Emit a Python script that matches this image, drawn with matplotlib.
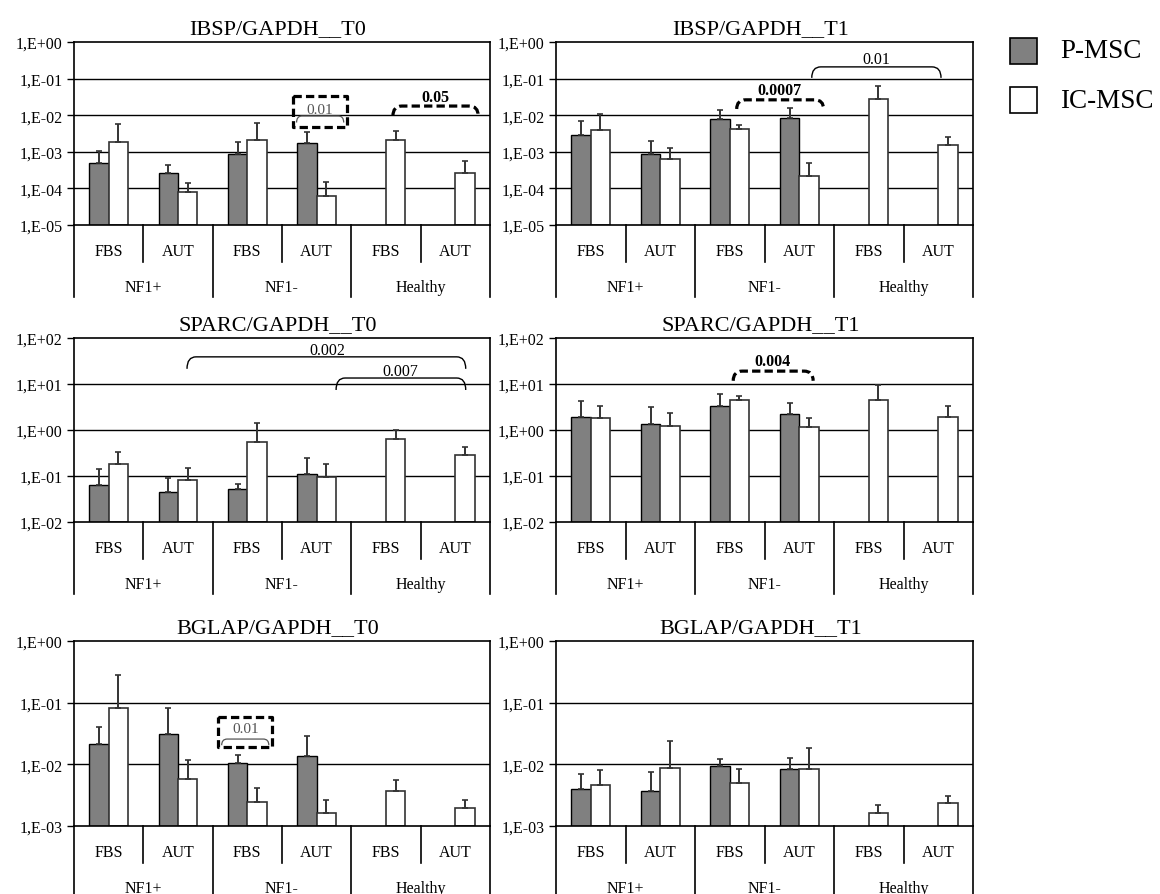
import numpy as np
import matplotlib
matplotlib.use("Agg")
import matplotlib.pyplot as plt
from matplotlib.path import Path
from matplotlib.patches import PathPatch, Rectangle

plt.rcParams['font.family'] = ['Liberation Serif', 'DejaVu Serif']

nan = np.nan

# category labels
media = ["FBS", "AUT", "FBS", "AUT", "FBS", "AUT"]
groups = ["NF1+", "NF1-", "Healthy"]

# IBSP/GAPDH T0
ibsp_t0_p = [5.0e-4, 2.7e-4, 8.5e-4, 1.75e-3, nan, nan]
ibsp_t0_p_err = [5.5e-4, 1.7e-4, 1.05e-3, 1.65e-3, nan, nan]
ibsp_t0_ic = [1.8e-3, 8.0e-5, 2.1e-3, 6.3e-5, 2.05e-3, 2.6e-4]
ibsp_t0_ic_err = [3.8e-3, 6.0e-5, 3.9e-3, 8.7e-5, 1.75e-3, 2.9e-4]

# IBSP/GAPDH T1
ibsp_t1_p = [2.95e-3, 8.5e-4, 7.8e-3, 8.2e-3, nan, nan]
ibsp_t1_p_err = [4.15e-3, 1.09e-3, 6.2e-3, 7.6e-3, nan, nan]
ibsp_t1_ic = [4.0e-3, 6.5e-4, 4.3e-3, 2.2e-4, 2.8e-2, 1.55e-3]
ibsp_t1_ic_err = [7.0e-3, 6.1e-4, 1.2e-3, 2.6e-4, 3.6e-2, 1.05e-3]

# SPARC/GAPDH T0
sparc_t0_p = [0.065, 0.044, 0.053, 0.112, nan, nan]
sparc_t0_p_err = [0.080, 0.046, 0.014, 0.133, nan, nan]
sparc_t0_ic = [0.18, 0.08, 0.54, 0.093, 0.65, 0.29]
sparc_t0_ic_err = [0.15, 0.07, 0.89, 0.093, 0.35, 0.14]

# SPARC/GAPDH T1
sparc_t1_p = [1.96, 1.32, 3.25, 2.2, nan, nan]
sparc_t1_p_err = [2.24, 1.88, 2.95, 1.7, nan, nan]
sparc_t1_ic = [1.86, 1.25, 4.4, 1.19, 4.6, 1.94]
sparc_t1_ic_err = [1.44, 1.1, 1.1, 0.59, 4.7, 1.46]

# BGLAP/GAPDH T0
bglap_t0_p = [0.021, 0.031, 0.0105, 0.0138, nan, nan]
bglap_t0_p_err = [0.019, 0.051, 0.0038, 0.0146, nan, nan]
bglap_t0_ic = [0.082, 0.0058, 0.00245, 0.00163, 0.00367, 0.00194]
bglap_t0_ic_err = [0.198, 0.006, 0.00165, 0.00097, 0.00183, 0.00066]

# BGLAP/GAPDH T1
bglap_t1_p = [0.00405, 0.0037, 0.0093, 0.0084, nan, nan]
bglap_t1_p_err = [0.0028, 0.0039, 0.0031, 0.0043, nan, nan]
bglap_t1_ic = [0.00465, 0.0086, 0.0049, 0.0084, 0.00161, 0.00238]
bglap_t1_ic_err = [0.0033, 0.0149, 0.0034, 0.0101, 0.0006, 0.0007]

W, H = 1160, 895
fig = plt.figure(figsize=(W / 100, H / 100), dpi=100)

GREY = "#808080"
BW = 0.28


def make_axes(x0, y0, w, h):
    return fig.add_axes([x0 / W, 1 - (y0 + h) / H, w / W, h / H])


def fmt(v, pos):
    return "1,E%+03d" % int(round(np.log10(v)))


def draw_panel(ax, h_px, title, ylim, p, p_err, ic, ic_err):
    x = np.arange(6)
    lo = ylim[0]
    p = np.array(p)
    ic = np.array(ic)
    ax.set_yscale("log")
    ax.set_ylim(*ylim)
    ax.set_xlim(-0.5, 5.5)
    decades = np.arange(int(np.log10(ylim[0])), int(np.log10(ylim[1])) + 1)
    ticks = 10.0 ** decades
    ax.set_yticks(ticks)
    ax.yaxis.set_minor_locator(matplotlib.ticker.NullLocator())
    ax.yaxis.set_major_formatter(matplotlib.ticker.FuncFormatter(fmt))
    ax.tick_params(axis="y", length=5, width=1, labelsize=11.5, pad=3)
    ax.set_xticks([])
    for t in ticks[1:-1]:
        ax.axhline(t, color="black", lw=1.0, zorder=1)
    for s in ax.spines.values():
        s.set_linewidth(1.2)

    ax.bar(x - BW / 2, p - lo, BW, bottom=lo, color=GREY, edgecolor="black", lw=1.0, zorder=2)
    ax.bar(x + BW / 2, ic - lo, BW, bottom=lo, color="white", edgecolor="#333333", lw=1.2, zorder=2)
    ekw = dict(fmt="none", ecolor="#333333", elinewidth=1.4, capsize=2.2, capthick=1.2, zorder=3)
    ax.errorbar(x - BW / 2, p, yerr=[np.zeros(6), p_err], **ekw)
    ax.errorbar(x + BW / 2, ic, yerr=[np.zeros(6), ic_err], **ekw)

    ax.text(0.49, 1 + 9 / h_px, title, transform=ax.transAxes, ha="center",
            va="baseline", fontsize=16)

    # category table under the axis
    tr = ax.get_xaxis_transform()
    for k in range(7):
        xe = k - 0.5
        depth = 72 if k % 2 == 0 else 37
        ax.plot([xe, xe], [0, -depth / h_px], transform=tr, clip_on=False, color="black", lw=1.2)
    for k, lab in enumerate(media):
        ax.text(k, -26 / h_px, lab, transform=tr, ha="center", va="center", fontsize=11.5)
    for g, lab in enumerate(groups):
        ax.text(2 * g + 0.5, -62 / h_px, lab, transform=tr, ha="center", va="center", fontsize=11.5)


def brace(ax, x0, x1, ytop, ybot, dx=0.13, **kw):
    verts = [(x0, ybot), (x0, ytop), (x0 + dx, ytop), (x1 - dx, ytop), (x1, ytop), (x1, ybot)]
    codes = [Path.MOVETO, Path.CURVE3, Path.CURVE3, Path.LINETO, Path.CURVE3, Path.CURVE3]
    ax.add_patch(PathPatch(Path(verts, codes), fill=False, zorder=4, **kw))


DASH = dict(color="black", lw=2.3, linestyle=(0, (2.6, 1.3)))
THIN = dict(color="black", lw=1.0)
BOXLINE = dict(color="#555555", lw=0.9)


def boxed(ax, x0, x1, y0, y1, label, ytext, bt, bb):
    ax.plot([x0, x1, x1, x0, x0], [y0, y0, y1, y1, y0], clip_on=False, zorder=4, **DASH)
    ax.text((x0 + x1) / 2, ytext, label, ha="center", va="center", fontsize=11, color="#555555", zorder=5)
    brace(ax, x0 + 0.05, x1 - 0.05, bt, bb, dx=0.08, **BOXLINE)


ax1 = make_axes(74, 43, 416, 183)
draw_panel(ax1, 183, "IBSP/GAPDH__T0", (1e-5, 1), ibsp_t0_p, ibsp_t0_p_err, ibsp_t0_ic, ibsp_t0_ic_err)
boxed(ax1, 2.66, 3.44, 10 ** -1.48, 10 ** -2.32, "0.01", 10 ** -1.85, 10 ** -2.02, 10 ** -2.2)
brace(ax1, 4.10, 5.33, 10 ** -1.75, 10 ** -2.02, **DASH)
ax1.text(4.71, 10 ** -1.50, "0.05", ha="center", va="center", fontsize=11.5, fontweight="bold")

ax2 = make_axes(556, 43, 417, 183)
draw_panel(ax2, 183, "IBSP/GAPDH__T1", (1e-5, 1), ibsp_t1_p, ibsp_t1_p_err, ibsp_t1_ic, ibsp_t1_ic_err)
brace(ax2, 3.18, 5.04, 10 ** -0.68, 10 ** -0.98, **THIN)
ax2.text(4.11, 10 ** -0.46, "0.01", ha="center", va="center", fontsize=11.5)
brace(ax2, 2.10, 3.35, 10 ** -1.58, 10 ** -1.83, **DASH)
ax2.text(2.72, 10 ** -1.31, "0.0007", ha="center", va="center", fontsize=11.5, fontweight="bold")

ax3 = make_axes(74, 339, 416, 184)
draw_panel(ax3, 184, "SPARC/GAPDH__T0", (1e-2, 1e2), sparc_t0_p, sparc_t0_p_err, sparc_t0_ic, sparc_t0_ic_err)
brace(ax3, 1.13, 5.15, 10 ** 1.59, 10 ** 1.33, **THIN)
ax3.text(3.16, 10 ** 1.74, "0.002", ha="center", va="center", fontsize=11.5)
brace(ax3, 3.28, 5.15, 10 ** 1.13, 10 ** 0.87, **THIN)
ax3.text(4.20, 10 ** 1.28, "0.007", ha="center", va="center", fontsize=11.5)

ax4 = make_axes(556, 339, 417, 184)
draw_panel(ax4, 184, "SPARC/GAPDH__T1", (1e-2, 1e2), sparc_t1_p, sparc_t1_p_err, sparc_t1_ic, sparc_t1_ic_err)
brace(ax4, 2.05, 3.20, 10 ** 1.28, 10 ** 1.07, **DASH)
ax4.text(2.62, 10 ** 1.50, "0.004", ha="center", va="center", fontsize=11.5, fontweight="bold")

ax5 = make_axes(74, 642, 416, 185)
draw_panel(ax5, 185, "BGLAP/GAPDH__T0", (1e-3, 1), bglap_t0_p, bglap_t0_p_err, bglap_t0_ic, bglap_t0_ic_err)
boxed(ax5, 1.58, 2.36, 10 ** -1.23, 10 ** -1.72, "0.01", 10 ** -1.42, 10 ** -1.59, 10 ** -1.69)

ax6 = make_axes(556, 642, 417, 185)
draw_panel(ax6, 185, "BGLAP/GAPDH__T1", (1e-3, 1), bglap_t1_p, bglap_t1_p_err, bglap_t1_ic, bglap_t1_ic_err)

# legend
for (y0, col, lab) in [(39, GREY, "P-MSC"), (88, "white", "IC-MSC")]:
    fig.add_artist(Rectangle((1010 / W, 1 - (y0 + 26) / H), 27 / W, 26 / H, transform=fig.transFigure,
                             facecolor=col, edgecolor="black", lw=1.2))
    fig.text(1060 / W, 1 - (y0 + 13) / H, lab, ha="left", va="center", fontsize=19.5)

fig.savefig("out.png", dpi=100)
